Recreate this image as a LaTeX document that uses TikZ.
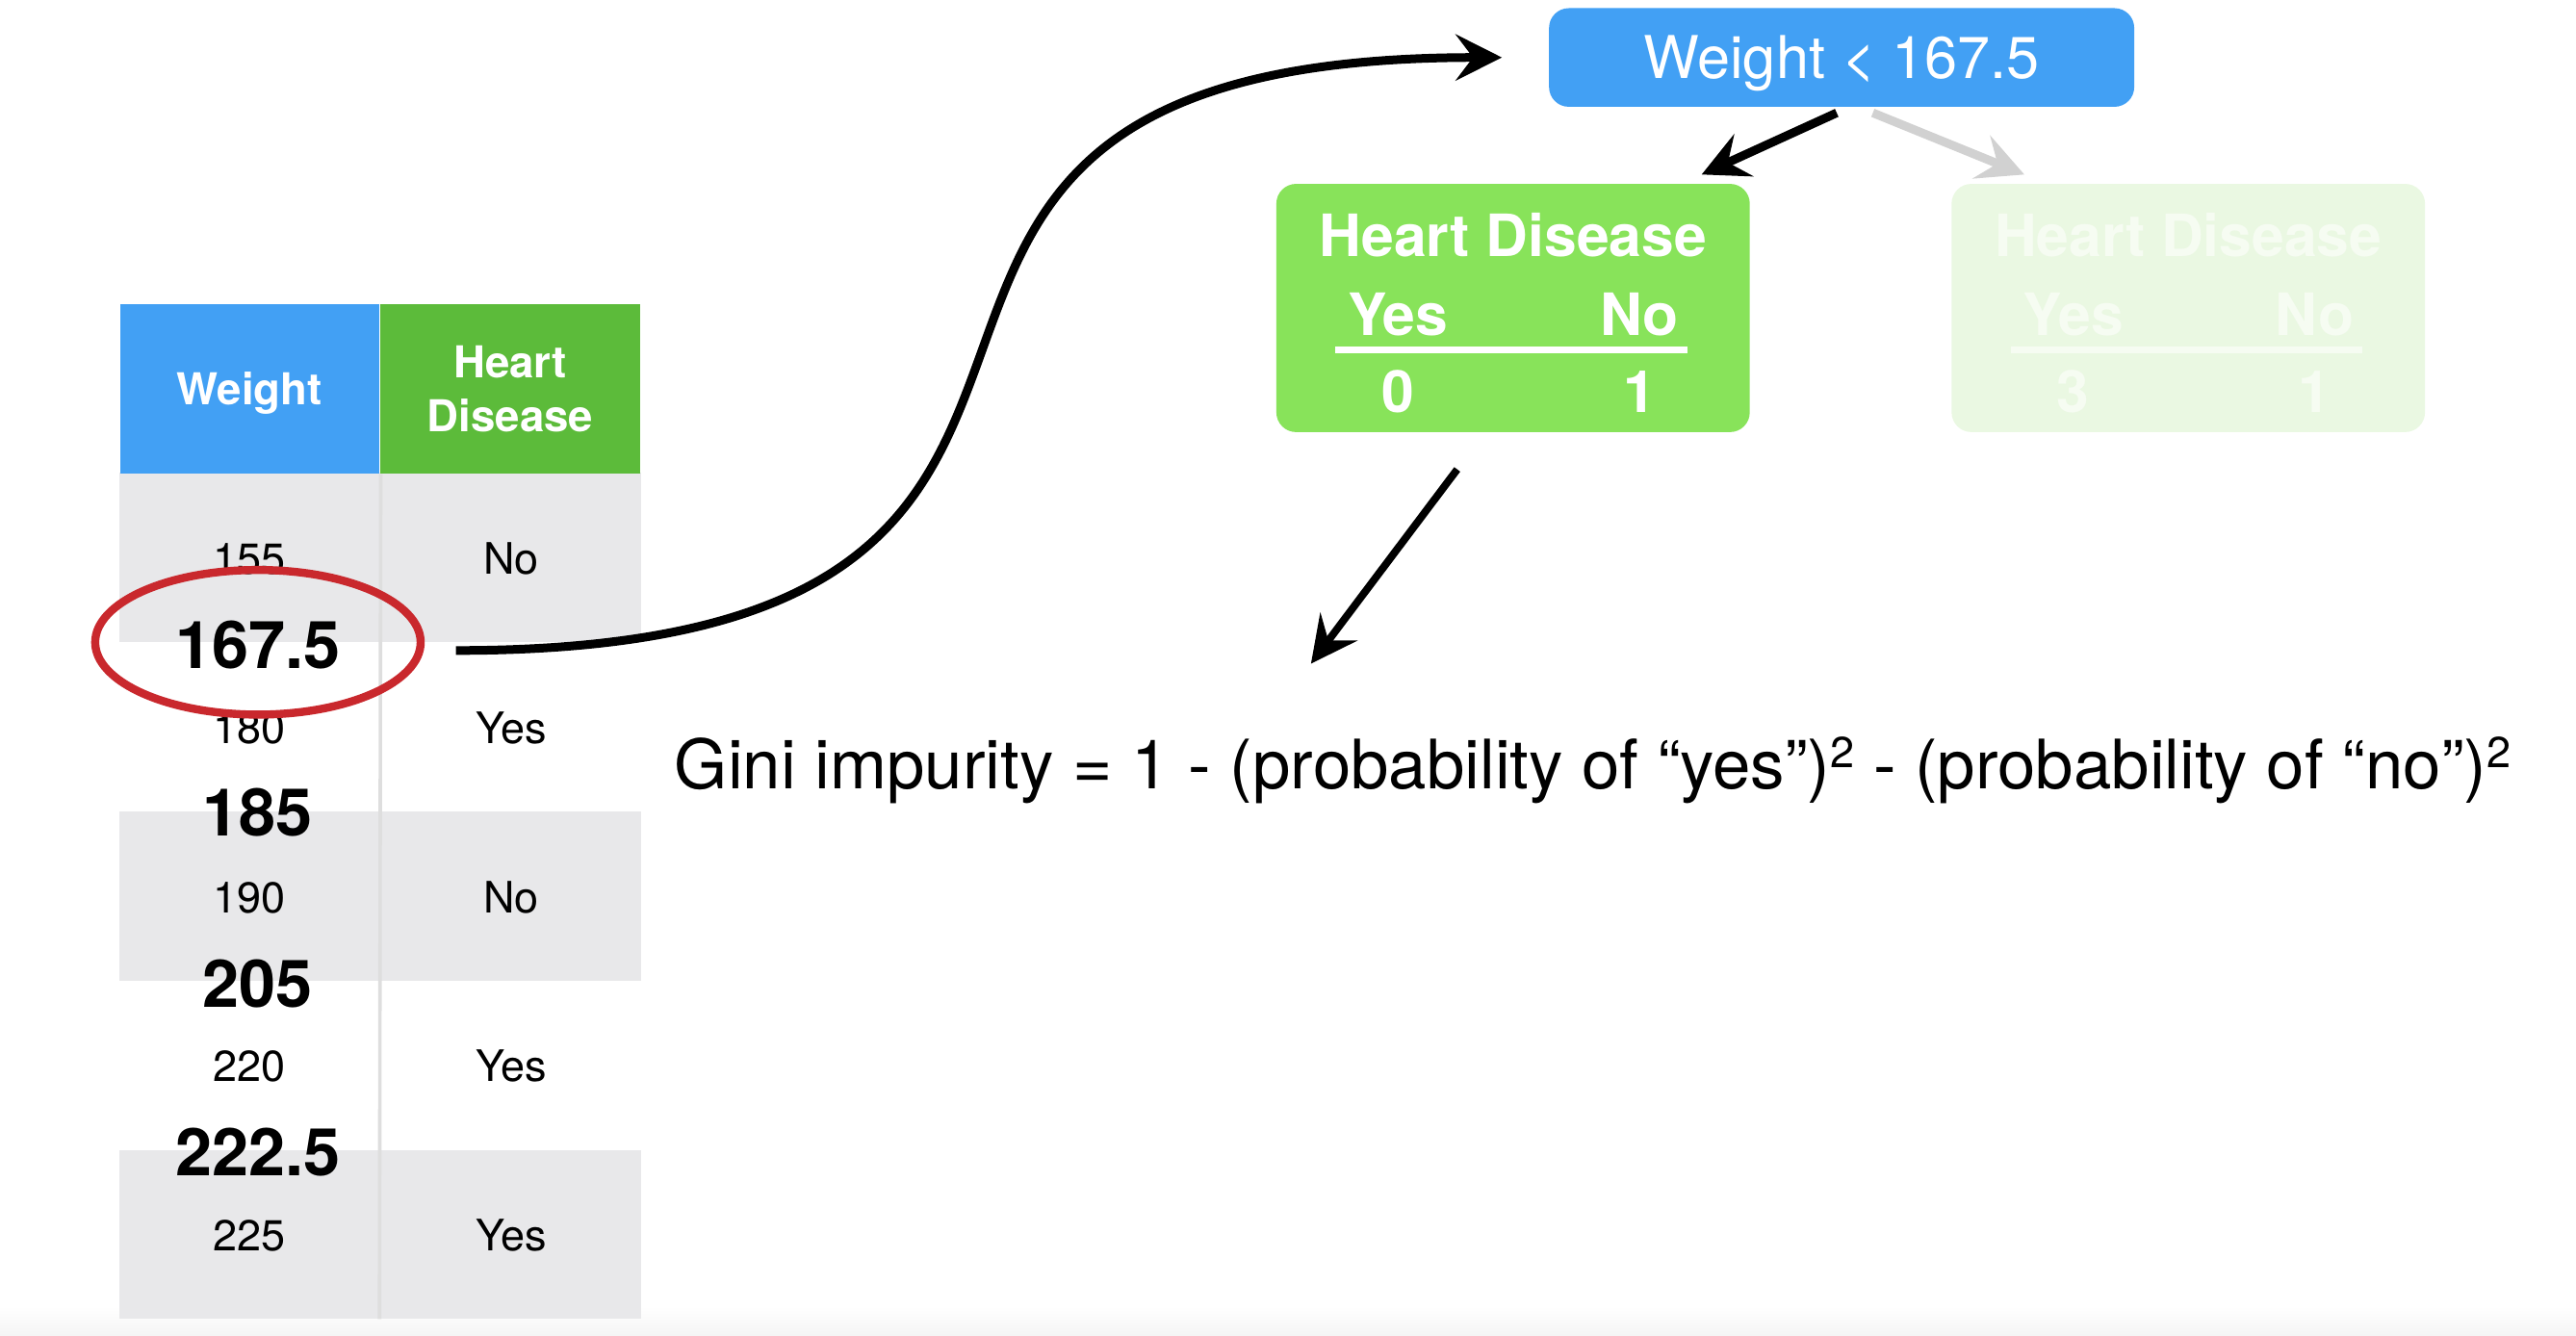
\documentclass[tikz,border=0pt]{standalone}
\usepackage{fontspec}
\setmainfont{TeX Gyre Heros}
\usetikzlibrary{arrows.meta,calc,shapes.geometric}
\definecolor{hdblue}{HTML}{42A0F4}
\definecolor{hdgreen}{HTML}{5CBB3A}
\definecolor{leafgreen}{HTML}{88E35A}
\definecolor{fadegreen}{HTML}{EAF8E2}
\definecolor{fadetext}{HTML}{F6FCF2}
\definecolor{rowgray}{HTML}{E8E8EA}
\definecolor{ringred}{HTML}{C9282D}
\newcommand{\gsq}{\raisebox{.3em}{\fontsize{7.5}{8}\selectfont 2}}
\begin{document}
\begin{tikzpicture}
  [x=0.01cm,y=-0.01cm,
   hcell/.style={minimum width=1.58cm,minimum height=1.03cm,inner sep=0pt,text=white,
     font=\fontsize{7.6}{9.4}\selectfont\bfseries,align=center,text depth=0pt},
   band/.style={fill=rowgray,minimum width=3.17cm,minimum height=1.03cm,inner sep=0pt},
   val/.style={anchor=base,inner sep=0pt,font=\fontsize{7.5}{9}\selectfont},
   cut/.style={anchor=base,inner sep=0pt,font=\fontsize{11.4}{13}\selectfont\bfseries},
   leaf/.style={rounded corners=0.12cm,minimum width=2.88cm,minimum height=1.51cm,inner sep=0pt},
   lbl/.style={anchor=base,inner sep=0pt,font=\fontsize{10.1}{12}\selectfont\bfseries},
   arr/.style={line width=1.5pt,-{Stealth[length=8pt,width=8pt,inset=3pt]}}]
  \useasboundingbox (0,0) rectangle (1568,813);
  \shade[top color=white,bottom color=black!4] (0,795) rectangle (1568,813);
  % table
  \foreach \y in {339.5,545.5,751.5}
    \node[band] at (231.5,\y) {};
  \node[hcell,fill=hdblue] (hw) at (152,236.5) {Weight};
  \node[hcell,fill=hdgreen] (hhd) at (310.5,236.5) {Heart\\Disease};
  \draw[black!13,line width=0.6pt] (hw.south east) -- (231,803);
  \foreach \y/\w/\h in {349.5/155/No,452.5/180/Yes,555.5/190/No,658.5/220/Yes,761.5/225/Yes} {
    \node[val] (w\w) at (152,\y) {\w};
    \node[val] (hd\w) at (311,\y) {\h};
  }
  \foreach \y/\c [count=\i] in {407/167.5,509/185,613/205,716/222.5}
    \node[cut] (c\i) at (157,\y) {\c};
  \node[ellipse,draw=ringred,line width=1.4pt,minimum width=1.98cm,minimum height=0.88cm,
    inner sep=0pt] (ring) at (157,391) {};
  % tree
  \node[rounded corners=0.12cm,fill=hdblue,minimum width=3.56cm,minimum height=0.6cm,
    inner sep=0pt] (root) at (1121,35) {};
  \node[anchor=base,inner sep=0pt,text=white,font=\fontsize{10.2}{12}\selectfont]
    at (1121,48) {Weight < 167.5};
  \node[leaf,fill=leafgreen] (yes) at (921,187.5) {};
  \node[leaf,fill=fadegreen] (no) at (1332,187.5) {};
  \foreach \n/\dx/\a/\b/\col in {yes/0/0/1/white,no/411/3/1/fadetext} {
    \node[lbl,text=\col] at (921+\dx,156) {Heart Disease};
    \node[lbl,text=\col] at (851+\dx,204) {Yes};
    \node[lbl,text=\col] at (998+\dx,204) {No};
    \draw[\col,line width=1.1pt] (813+\dx,213) -- (1027+\dx,213);
    \node[lbl,text=\col] at (851+\dx,251) {\a};
    \node[lbl,text=\col] at (998+\dx,251) {\b};
  }
  \draw[arr] ($(root.south)+(-3,3)$) -- ($(yes.north east)+(-30,-5)$);
  \draw[arr,black!18] ($(root.south)+(19,3)$) -- ($(no.north west)+(45,-5)$);
  % formula
  \node[anchor=base west,inner sep=0pt,font=\fontsize{11.8}{14}\selectfont] (gini) at (410,480)
    {Gini impurity = 1 - (probability of “yes”)\gsq{} - (probability of “no”)\gsq};
  \draw[arr,line width=1.3pt] ($(yes.south)+(-34,22)$) -- ($(gini.base west)+(388,-76)$);
  % link
  \draw[arr] ($(ring.east)+(19,5)$) .. controls (780,396) and (420,35) .. ($(root.west)+(-28,0)$);
\end{tikzpicture}
\end{document}
